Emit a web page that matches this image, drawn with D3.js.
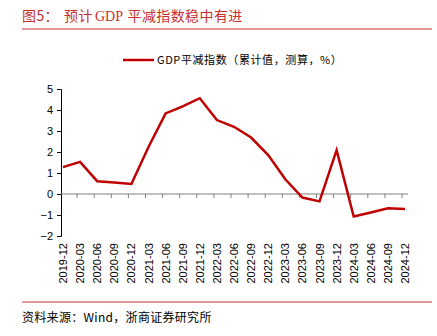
<!DOCTYPE html>
<html>
<head>
<meta charset="utf-8">
<script src="https://cdn.jsdelivr.net/npm/d3@7/dist/d3.min.js"></script>
<style>
  body { margin: 0; background: #fff; }
  svg { display: block; }
</style>
</head>
<body>
<svg id="chart" width="437" height="336"></svg>
<script>
// quarter labels on the x axis
const quarters = ['2019-12', '2020-03', '2020-06', '2020-09', '2020-12', '2021-03', '2021-06',
  '2021-09', '2021-12', '2022-03', '2022-06', '2022-09', '2022-12', '2023-03', '2023-06',
  '2023-09', '2023-12', '2024-03', '2024-06', '2024-09', '2024-12'];

// GDP deflator, cumulative, estimated (%)
const deflator = [1.28, 1.53, 0.61, 0.55, 0.48, 2.24, 3.84, 4.17, 4.56, 3.52, 3.2, 2.69,
  1.85, 0.7, -0.17, -0.35, 2.09, -1.07, -0.88, -0.68, -0.71];

const yTicks = [-2, -1, 0, 1, 2, 3, 4, 5];

const svg = d3.select('#chart');
const red = '#c00000';
const titleRed = '#c8302e';
const sans = '"Liberation Sans", Arial, "Noto Sans CJK SC", sans-serif';
const cjk = '"Noto Sans CJK SC", sans-serif';

// title pieces + rule
const titleParts = [
  { x: 22, t: '图5：' },
  { x: 64, t: '预计' },
  { x: 95, t: 'GDP' },
  { x: 127.5, t: '平减指数稳中有进' }
];
svg.append('g')
  .selectAll('text')
  .data(titleParts)
  .join('text')
  .attr('x', d => d.x).attr('y', 21)
  .attr('fill', titleRed)
  .style('font-family', d => d.t === 'GDP' ? '"Liberation Serif", serif' : cjk)
  .style('font-size', '14px')
  .style('letter-spacing', d => d.t === 'GDP' ? '0px' : '0.4px')
  .text(d => d.t);

svg.append('line')
  .attr('x1', 22).attr('x2', 432)
  .attr('y1', 29).attr('y2', 29)
  .attr('stroke', titleRed).attr('stroke-width', 1);

// scales
const x = d3.scalePoint().domain(quarters).range([63, 405]);
const y = d3.scaleLinear().domain([-2, 5]).range([236, 89]);

// legend
svg.append('line')
  .attr('x1', 123).attr('x2', 154)
  .attr('y1', 60).attr('y2', 60)
  .attr('stroke', red).attr('stroke-width', 2.5);
svg.append('text')
  .attr('x', 157).attr('y', 64)
  .style('font-family', cjk)
  .style('font-size', '11px')
  .style('letter-spacing', '0.6px')
  .attr('fill', '#000')
  .text('GDP平减指数（累计值，测算，%）');

// y axis
const yAxis = svg.append('g')
  .attr('transform', 'translate(61,0)')
  .call(d3.axisLeft(y).tickValues(yTicks).tickSize(4).tickPadding(4).tickFormat(d3.format('d')));
yAxis.selectAll('path, line').attr('stroke', '#000');
yAxis.selectAll('text').style('font-family', sans).style('font-size', '11px').attr('fill', '#000');

// x axis along zero (ticks sit slightly left of the points)
const xAxis = svg.append('g').attr('transform', `translate(0,${y(0)})`);
xAxis.append('line')
  .attr('x1', 61).attr('x2', 408)
  .attr('stroke', '#808080').attr('stroke-width', 1.2);
xAxis.selectAll('line.tick')
  .data(quarters.slice(1))
  .join('line')
  .attr('class', 'tick')
  .attr('x1', d => x(d) - 3).attr('x2', d => x(d) - 3)
  .attr('y1', 0).attr('y2', 4)
  .attr('stroke', '#808080');

// rotated category labels at the bottom
svg.append('g')
  .selectAll('text')
  .data(quarters)
  .join('text')
  .attr('transform', d => `translate(${x(d) + 4},283.5) rotate(-90)`)
  .attr('text-anchor', 'start')
  .style('font-family', sans)
  .style('font-size', '11px')
  .attr('fill', '#000')
  .text(d => d);

// line
const line = d3.line()
  .x((d, i) => x(quarters[i]))
  .y(d => y(d));

svg.append('path')
  .datum(deflator)
  .attr('fill', 'none')
  .attr('stroke', red)
  .attr('stroke-width', 2.5)
  .attr('stroke-linejoin', 'miter')
  .attr('d', line);

// footer
svg.append('line')
  .attr('x1', 22).attr('x2', 432)
  .attr('y1', 302).attr('y2', 302)
  .attr('stroke', titleRed).attr('stroke-width', 1);
svg.append('text')
  .attr('x', 22).attr('y', 322)
  .style('font-family', cjk)
  .style('font-size', '12px')
  .style('letter-spacing', '0.3px')
  .attr('fill', '#000')
  .text('资料来源：Wind，浙商证券研究所');
</script>
</body>
</html>
